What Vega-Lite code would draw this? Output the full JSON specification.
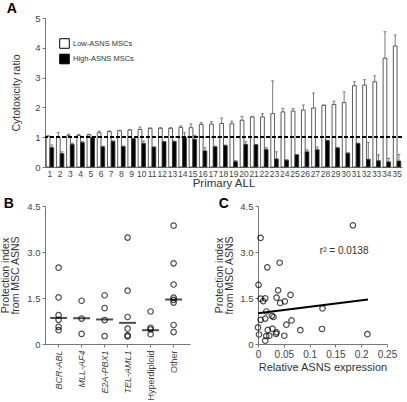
{
 "$schema": "https://vega.github.io/schema/vega-lite/v6.json",
 "padding": {"left": 0, "top": 2, "right": 2, "bottom": 2},
 "config": {
  "font": "Liberation Sans",
  "view": {"stroke": null},
  "axis": {"grid": false, "labelColor": "#444", "titleColor": "#333", "domainColor": "#777", "tickColor": "#777", "labelFontSize": 9.5, "titleFontSize": 10.5, "titleFontWeight": "normal", "tickSize": 3, "labelPadding": 2},
  "title": {"font": "Liberation Sans", "fontSize": 14, "fontWeight": "bold", "anchor": "start", "frame": "bounds", "color": "#000"}
 },
 "datasets": {
  "bars": [
   {"patient":1,"group":"Low-ASNS MSCs","value":1.03,"upper":1.05},{"patient":1,"group":"High-ASNS MSCs","value":0.65,"upper":0.74},
   {"patient":2,"group":"Low-ASNS MSCs","value":1.00,"upper":1.16},{"patient":2,"group":"High-ASNS MSCs","value":0.45,"upper":0.51},
   {"patient":3,"group":"Low-ASNS MSCs","value":1.05,"upper":1.10},{"patient":3,"group":"High-ASNS MSCs","value":0.76,"upper":0.80},
   {"patient":4,"group":"Low-ASNS MSCs","value":1.06,"upper":1.09},{"patient":4,"group":"High-ASNS MSCs","value":0.82,"upper":0.86},
   {"patient":5,"group":"Low-ASNS MSCs","value":1.08,"upper":1.10},{"patient":5,"group":"High-ASNS MSCs","value":0.99,"upper":1.00},
   {"patient":6,"group":"Low-ASNS MSCs","value":1.15,"upper":1.21},{"patient":6,"group":"High-ASNS MSCs","value":0.68,"upper":0.70},
   {"patient":7,"group":"Low-ASNS MSCs","value":1.19,"upper":1.21},{"patient":7,"group":"High-ASNS MSCs","value":0.86,"upper":0.88},
   {"patient":8,"group":"Low-ASNS MSCs","value":1.22,"upper":1.23},{"patient":8,"group":"High-ASNS MSCs","value":0.69,"upper":0.70},
   {"patient":9,"group":"Low-ASNS MSCs","value":1.24,"upper":1.26},{"patient":9,"group":"High-ASNS MSCs","value":0.95,"upper":0.96},
   {"patient":10,"group":"Low-ASNS MSCs","value":1.26,"upper":1.34},{"patient":10,"group":"High-ASNS MSCs","value":0.79,"upper":0.87},
   {"patient":11,"group":"Low-ASNS MSCs","value":1.30,"upper":1.31},{"patient":11,"group":"High-ASNS MSCs","value":0.67,"upper":0.68},
   {"patient":12,"group":"Low-ASNS MSCs","value":1.30,"upper":1.32},{"patient":12,"group":"High-ASNS MSCs","value":0.85,"upper":0.86},
   {"patient":13,"group":"Low-ASNS MSCs","value":1.30,"upper":1.32},{"patient":13,"group":"High-ASNS MSCs","value":0.86,"upper":0.87},
   {"patient":14,"group":"Low-ASNS MSCs","value":1.33,"upper":1.38},{"patient":14,"group":"High-ASNS MSCs","value":0.98,"upper":1.15},
   {"patient":15,"group":"Low-ASNS MSCs","value":1.32,"upper":1.45},{"patient":15,"group":"High-ASNS MSCs","value":0.93,"upper":1.06},
   {"patient":16,"group":"Low-ASNS MSCs","value":1.43,"upper":1.49},{"patient":16,"group":"High-ASNS MSCs","value":0.54,"upper":0.65},
   {"patient":17,"group":"Low-ASNS MSCs","value":1.44,"upper":1.52},{"patient":17,"group":"High-ASNS MSCs","value":0.68,"upper":0.70},
   {"patient":18,"group":"Low-ASNS MSCs","value":1.46,"upper":1.65},{"patient":18,"group":"High-ASNS MSCs","value":0.72,"upper":0.74},
   {"patient":19,"group":"Low-ASNS MSCs","value":1.45,"upper":1.54},{"patient":19,"group":"High-ASNS MSCs","value":0.18,"upper":0.22},
   {"patient":20,"group":"Low-ASNS MSCs","value":1.57,"upper":1.70},{"patient":20,"group":"High-ASNS MSCs","value":0.76,"upper":0.85},
   {"patient":21,"group":"Low-ASNS MSCs","value":1.68,"upper":1.70},{"patient":21,"group":"High-ASNS MSCs","value":0.75,"upper":0.76},
   {"patient":22,"group":"Low-ASNS MSCs","value":1.68,"upper":1.79},{"patient":22,"group":"High-ASNS MSCs","value":0.59,"upper":0.65},
   {"patient":23,"group":"Low-ASNS MSCs","value":1.79,"upper":2.89},{"patient":23,"group":"High-ASNS MSCs","value":0.27,"upper":0.51},
   {"patient":24,"group":"Low-ASNS MSCs","value":1.85,"upper":1.97},{"patient":24,"group":"High-ASNS MSCs","value":0.23,"upper":0.24},
   {"patient":25,"group":"Low-ASNS MSCs","value":1.88,"upper":1.96},{"patient":25,"group":"High-ASNS MSCs","value":0.41,"upper":0.42},
   {"patient":26,"group":"Low-ASNS MSCs","value":1.91,"upper":2.08},{"patient":26,"group":"High-ASNS MSCs","value":0.51,"upper":0.58},
   {"patient":27,"group":"Low-ASNS MSCs","value":1.98,"upper":2.48},{"patient":27,"group":"High-ASNS MSCs","value":0.58,"upper":0.67},
   {"patient":28,"group":"Low-ASNS MSCs","value":2.07,"upper":2.08},{"patient":28,"group":"High-ASNS MSCs","value":0.89,"upper":0.90},
   {"patient":29,"group":"Low-ASNS MSCs","value":2.10,"upper":2.21},{"patient":29,"group":"High-ASNS MSCs","value":0.64,"upper":0.66},
   {"patient":30,"group":"Low-ASNS MSCs","value":2.16,"upper":2.52},{"patient":30,"group":"High-ASNS MSCs","value":0.46,"upper":0.48},
   {"patient":31,"group":"Low-ASNS MSCs","value":2.73,"upper":2.86},{"patient":31,"group":"High-ASNS MSCs","value":0.79,"upper":0.80},
   {"patient":32,"group":"Low-ASNS MSCs","value":2.75,"upper":2.93},{"patient":32,"group":"High-ASNS MSCs","value":0.26,"upper":0.83},
   {"patient":33,"group":"Low-ASNS MSCs","value":2.86,"upper":3.06},{"patient":33,"group":"High-ASNS MSCs","value":0.21,"upper":0.41},
   {"patient":34,"group":"Low-ASNS MSCs","value":3.65,"upper":4.54},{"patient":34,"group":"High-ASNS MSCs","value":0.17,"upper":0.29},
   {"patient":35,"group":"Low-ASNS MSCs","value":4.06,"upper":4.43},{"patient":35,"group":"High-ASNS MSCs","value":0.20,"upper":0.42}
  ],
  "subtype": [
   {"subtype":"BCR-ABL","index":2.49},{"subtype":"BCR-ABL","index":1.52},{"subtype":"BCR-ABL","index":0.94},{"subtype":"BCR-ABL","index":0.79},{"subtype":"BCR-ABL","index":0.56},{"subtype":"BCR-ABL","index":0.45},
   {"subtype":"MLL-AF4","index":1.41},{"subtype":"MLL-AF4","index":0.83},{"subtype":"MLL-AF4","index":0.33},
   {"subtype":"E2A-PBX1","index":1.59},{"subtype":"E2A-PBX1","index":1.17},{"subtype":"E2A-PBX1","index":0.78},{"subtype":"E2A-PBX1","index":0.26},
   {"subtype":"TEL-AML1","index":3.47},{"subtype":"TEL-AML1","index":1.74},{"subtype":"TEL-AML1","index":0.88},{"subtype":"TEL-AML1","index":0.50},{"subtype":"TEL-AML1","index":0.28},{"subtype":"TEL-AML1","index":0.25},
   {"subtype":"Hyperdiploid","index":1.06},{"subtype":"Hyperdiploid","index":0.53},{"subtype":"Hyperdiploid","index":0.48},{"subtype":"Hyperdiploid","index":0.32},
   {"subtype":"Other","index":3.86},{"subtype":"Other","index":2.63},{"subtype":"Other","index":1.94},{"subtype":"Other","index":1.51},{"subtype":"Other","index":1.44},{"subtype":"Other","index":1.35},{"subtype":"Other","index":0.62},{"subtype":"Other","index":0.39}
  ],
  "medians": [
   {"subtype":"BCR-ABL","median":0.85},{"subtype":"MLL-AF4","median":0.84},{"subtype":"E2A-PBX1","median":0.80},
   {"subtype":"TEL-AML1","median":0.69},{"subtype":"Hyperdiploid","median":0.45},{"subtype":"Other","median":1.45}
  ],
  "scatter": [
   {"asns":0.005,"index":3.46},{"asns":0.184,"index":3.87},{"asns":0.018,"index":2.50},{"asns":0.042,"index":2.65},
   {"asns":0.001,"index":1.93},{"asns":0.039,"index":1.75},{"asns":0.063,"index":1.60},{"asns":0.036,"index":1.51},
   {"asns":0.005,"index":1.48},{"asns":0.014,"index":1.49},{"asns":0.010,"index":1.40},{"asns":0.052,"index":1.39},
   {"asns":0.043,"index":1.34},{"asns":0.016,"index":1.06},{"asns":0.125,"index":1.16},{"asns":0.027,"index":0.92},
   {"asns":0.030,"index":0.88},{"asns":0.005,"index":0.79},{"asns":0.014,"index":0.83},{"asns":0.065,"index":0.77},
   {"asns":0.055,"index":0.63},{"asns":0.082,"index":0.45},{"asns":0.124,"index":0.49},{"asns":0.000,"index":0.54},
   {"asns":0.002,"index":0.31},{"asns":0.019,"index":0.46},{"asns":0.028,"index":0.50},{"asns":0.022,"index":0.27},
   {"asns":0.016,"index":0.26},{"asns":0.036,"index":0.38},{"asns":0.035,"index":0.33},{"asns":0.051,"index":0.27},
   {"asns":0.014,"index":0.11},{"asns":0.212,"index":0.32}
  ],
  "fit": [{"asns":0.0,"index":1.0},{"asns":0.213,"index":1.45}],
  "note": [{"asns":0.167,"index":3.03,"label":"r² = 0.0138"}]
 },
 "columns": 1,
 "align": "none",
 "spacing": 8,
 "concat": [
  {
   "width": 357, "height": 149,
   "title": {"text": "A", "dx": -5, "offset": -3},
   "data": {"name": "bars"},
   "layer": [
    {
     "mark": {"type": "bar", "stroke": "#333", "strokeWidth": 0.8},
     "encoding": {
      "x": {"field": "patient", "type": "ordinal", "scale": {"paddingInner": 0.27, "paddingOuter": 0.12},
            "axis": {"title": "Primary ALL", "titleFontSize": 11.5, "labelAngle": 0, "ticks": false, "labelOverlap": false, "labelFontSize": 8.5, "labelPadding": 2, "titlePadding": 0}},
      "xOffset": {"field": "group", "type": "nominal", "scale": {"domain": ["Low-ASNS MSCs", "High-ASNS MSCs"]}},
      "y": {"field": "value", "type": "quantitative", "scale": {"domain": [0, 5], "nice": false},
            "axis": {"values": [0,1,2,3,4,5], "title": "Cytotoxicity ratio", "titlePadding": 13}},
      "fill": {"field": "group", "type": "nominal", "scale": {"domain": ["Low-ASNS MSCs", "High-ASNS MSCs"], "range": ["#ffffff", "#000000"]},
               "legend": {"title": null, "orient": "none", "legendX": 14, "legendY": 20, "padding": 0, "symbolType": "square", "symbolSize": 92, "symbolStrokeColor": "#000", "symbolStrokeWidth": 1, "labelFontSize": 7.5, "labelColor": "#333", "rowPadding": 0.5, "labelOffset": 3}}
     }
    },
    {
     "mark": {"type": "rule", "stroke": "#555", "strokeWidth": 0.8},
     "encoding": {
      "x": {"field": "patient", "type": "ordinal"},
      "xOffset": {"field": "group", "type": "nominal"},
      "y": {"field": "value", "type": "quantitative", "axis": {"values": [0,1,2,3,4,5], "title": "Cytotoxicity ratio", "titlePadding": 13}},
      "y2": {"field": "upper"}
     }
    },
    {
     "mark": {"type": "tick", "color": "#555", "size": 3, "thickness": 1},
     "encoding": {
      "x": {"field": "patient", "type": "ordinal"},
      "xOffset": {"field": "group", "type": "nominal"},
      "y": {"field": "upper", "type": "quantitative", "axis": {"values": [0,1,2,3,4,5], "title": "Cytotoxicity ratio", "titlePadding": 13}}
     }
    },
    {
     "mark": {"type": "rule", "stroke": "#000", "strokeWidth": 1, "strokeDash": [4, 2]},
     "encoding": {"y": {"datum": 1, "type": "quantitative", "axis": {"values": [0,1,2,3,4,5], "title": "Cytotoxicity ratio", "titlePadding": 13}}}
    }
   ]
  },
  {
   "spacing": 24,
   "hconcat": [
    {
     "width": 145, "height": 138,
     "title": {"text": "B", "dx": 3, "offset": -10},
     "layer": [
      {
       "data": {"name": "subtype"},
       "mark": {"type": "point", "shape": "circle", "filled": false, "stroke": "#000", "strokeWidth": 1.2, "size": 30},
       "encoding": {
        "x": {"field": "subtype", "type": "nominal", "scale": {"domain": ["BCR-ABL","MLL-AF4","E2A-PBX1","TEL-AML1","Hyperdiploid","Other"], "paddingInner": 0, "paddingOuter": 0.152, "align": 0.3},
              "axis": {"title": null, "labelAngle": -90, "labelFontSize": 9, "labelPadding": 3,
                       "labelFontStyle": {"condition": {"test": "datum.value == 'Hyperdiploid' || datum.value == 'Other'", "value": "normal"}, "value": "italic"}}},
        "y": {"field": "index", "type": "quantitative", "scale": {"domain": [0, 4.5], "nice": false},
              "axis": {"values": [0, 1.5, 3, 4.5], "labelExpr": "datum.value == 0 ? '0' : format(datum.value, '.1f')", "title": ["Protection index", "from MSC ASNS"], "titleLineHeight": 10, "titlePadding": 6}}
       }
      },
      {
       "data": {"name": "medians"},
       "mark": {"type": "tick", "color": "#000", "size": 17, "thickness": 2},
       "encoding": {
        "x": {"field": "subtype", "type": "nominal"},
        "y": {"field": "median", "type": "quantitative", "axis": {"values": [0, 1.5, 3, 4.5], "labelExpr": "datum.value == 0 ? '0' : format(datum.value, '.1f')", "title": ["Protection index", "from MSC ASNS"], "titleLineHeight": 10, "titlePadding": 6}}
       }
      },
      {
       "mark": {"type": "rule", "stroke": "#555", "strokeWidth": 1, "strokeDash": [4, 2]},
       "encoding": {"y": {"datum": 0.82, "type": "quantitative", "axis": {"values": [0, 1.5, 3, 4.5], "labelExpr": "datum.value == 0 ? '0' : format(datum.value, '.1f')", "title": ["Protection index", "from MSC ASNS"], "titleLineHeight": 10, "titlePadding": 6}}}
      }
     ]
    },
    {
     "width": 129, "height": 138,
     "title": {"text": "C", "dx": 4, "offset": -10},
     "layer": [
      {
       "data": {"name": "scatter"},
       "mark": {"type": "point", "shape": "circle", "filled": false, "stroke": "#000", "strokeWidth": 1.2, "size": 30},
       "encoding": {
        "x": {"field": "asns", "type": "quantitative", "scale": {"domain": [0, 0.25], "nice": false},
              "axis": {"values": [0, 0.05, 0.1, 0.15, 0.2, 0.25], "labelExpr": "format(datum.value, '~g')", "labelOverlap": false, "labelFlush": false, "title": "Relative ASNS expression", "labelFontSize": 10, "titleFontSize": 11, "titlePadding": 2}},
        "y": {"field": "index", "type": "quantitative", "scale": {"domain": [0, 4.5], "nice": false},
              "axis": {"values": [0, 1.5, 3, 4.5], "labelExpr": "datum.value == 0 ? '0' : format(datum.value, '.1f')", "title": ["Protection index", "from MSC ASNS"], "titleLineHeight": 10, "titlePadding": 5}}
       }
      },
      {
       "data": {"name": "fit"},
       "mark": {"type": "line", "color": "#000", "strokeWidth": 2},
       "encoding": {
        "x": {"field": "asns", "type": "quantitative", "axis": {"values": [0, 0.05, 0.1, 0.15, 0.2, 0.25], "labelExpr": "format(datum.value, '~g')", "labelOverlap": false, "labelFlush": false, "title": "Relative ASNS expression", "labelFontSize": 10, "titleFontSize": 11, "titlePadding": 2}},
        "y": {"field": "index", "type": "quantitative", "axis": {"values": [0, 1.5, 3, 4.5], "labelExpr": "datum.value == 0 ? '0' : format(datum.value, '.1f')", "title": ["Protection index", "from MSC ASNS"], "titleLineHeight": 10, "titlePadding": 5}}
       }
      },
      {
       "data": {"name": "note"},
       "mark": {"type": "text", "fontSize": 10, "color": "#333", "align": "center", "baseline": "middle"},
       "encoding": {
        "x": {"field": "asns", "type": "quantitative", "axis": {"values": [0, 0.05, 0.1, 0.15, 0.2, 0.25], "labelExpr": "format(datum.value, '~g')", "labelOverlap": false, "labelFlush": false, "title": "Relative ASNS expression", "labelFontSize": 10, "titleFontSize": 11, "titlePadding": 2}},
        "y": {"field": "index", "type": "quantitative", "axis": {"values": [0, 1.5, 3, 4.5], "labelExpr": "datum.value == 0 ? '0' : format(datum.value, '.1f')", "title": ["Protection index", "from MSC ASNS"], "titleLineHeight": 10, "titlePadding": 5}},
        "text": {"field": "label"}
       }
      }
     ]
    }
   ]
  }
 ]
}
